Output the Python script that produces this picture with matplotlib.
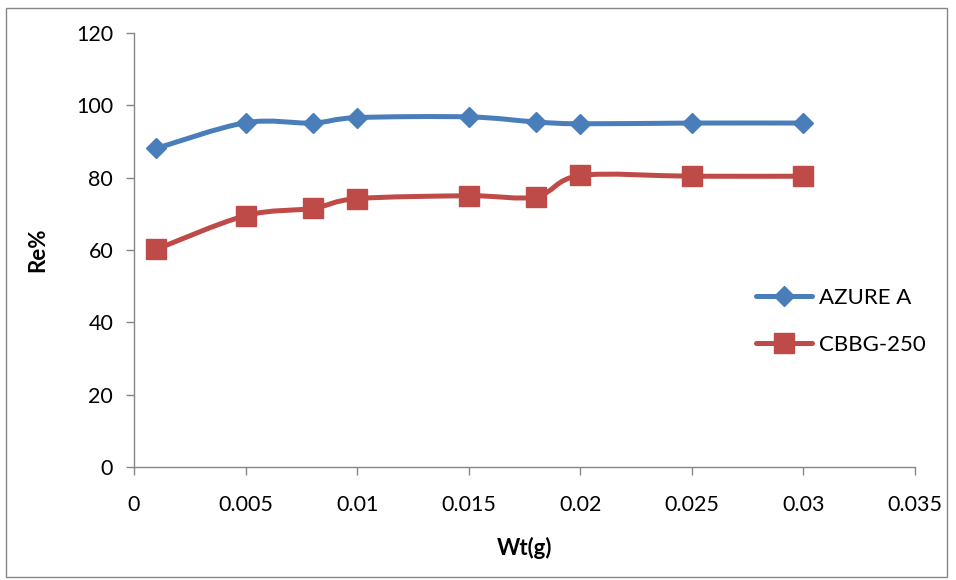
import matplotlib
matplotlib.use('Agg')
import matplotlib.pyplot as plt
from matplotlib.path import Path
from matplotlib.patches import PathPatch, Rectangle
from matplotlib.lines import Line2D

# data
wt = [0.001, 0.005, 0.008, 0.01, 0.015, 0.018, 0.02, 0.025, 0.03]
azure_a = [88.1, 95.2, 95.1, 96.6, 96.8, 95.4, 94.9, 95.1, 95.1]
cbbg_250 = [60.2, 69.5, 71.5, 74.2, 75.0, 74.7, 80.6, 80.4, 80.4]

x_ticks = [0, 0.005, 0.01, 0.015, 0.02, 0.025, 0.03, 0.035]
x_labels = ['0', '0.005', '0.01', '0.015', '0.02', '0.025', '0.03', '0.035']
y_ticks = [0, 20, 40, 60, 80, 100, 120]

BLUE = '#4A7EBB'
RED = '#BE4B48'
GRAY = '#868686'

plt.rcParams['font.family'] = ['Lato', 'DejaVu Sans']


def smooth_path(xs, ys):
    """Excel-style smoothed line: cubic Bezier through the points"""
    verts = [(xs[0], ys[0])]
    codes = [Path.MOVETO]
    n = len(xs)
    for i in range(n - 1):
        x0, y0 = (xs[i - 1], ys[i - 1]) if i > 0 else (xs[i], ys[i])
        x1, y1 = xs[i], ys[i]
        x2, y2 = xs[i + 1], ys[i + 1]
        x3, y3 = (xs[i + 2], ys[i + 2]) if i + 2 < n else (x2, y2)
        c1 = (x1 + (x2 - x0) / 6, y1 + (y2 - y0) / 6)
        c2 = (x2 - (x3 - x1) / 6, y2 - (y3 - y1) / 6)
        verts += [c1, c2, (x2, y2)]
        codes += [Path.CURVE4] * 3
    return Path(verts, codes)


fig = plt.figure(figsize=(9.56, 5.8), dpi=100)
ax = fig.add_axes([134 / 956, 1 - 467 / 580, (915 - 134) / 956, (467 - 33) / 580])

for ys, color, marker, ms in [(azure_a, BLUE, 'D', 9.8), (cbbg_250, RED, 's', 14)]:
    ax.add_patch(PathPatch(smooth_path(wt, ys), facecolor='none', edgecolor=color,
                           linewidth=3.6, capstyle='round', joinstyle='round', zorder=2))
    ax.plot(wt, ys, linestyle='none', marker=marker, markersize=ms,
            color=color, markeredgecolor=color, zorder=3)

ax.set_xlim(0, 0.035)
ax.set_ylim(0, 120)
ax.set_xticks(x_ticks)
ax.set_xticklabels(x_labels)
ax.set_yticks(y_ticks)
ax.tick_params(direction='out', length=6, width=1, color=GRAY, labelsize=15.5)
ax.tick_params(axis='x', pad=14)
ax.tick_params(axis='y', pad=9)

for side in ['top', 'right']:
    ax.spines[side].set_visible(False)
for side in ['left', 'bottom']:
    ax.spines[side].set_color(GRAY)
    ax.spines[side].set_linewidth(1)

ax.set_xlabel('Wt(g)', fontsize=16, fontweight='bold', labelpad=16)
ax.set_ylabel('Re%', fontsize=16, fontweight='bold', labelpad=20)

handles = [
    Line2D([], [], color=BLUE, linewidth=3.6, marker='D', markersize=9.8, solid_capstyle='round'),
    Line2D([], [], color=RED, linewidth=3.6, marker='s', markersize=14, solid_capstyle='round'),
]
ax.legend(handles, ['AZURE A', 'CBBG-250'], loc='center left', bbox_to_anchor=(0.797, 0.336),
          frameon=False, fontsize=16, handlelength=2.5, labelspacing=1.2, handletextpad=0.3,
          borderpad=0, borderaxespad=0)

fig.patches.append(Rectangle((6 / 956, 3 / 580), 941 / 956, 569 / 580, transform=fig.transFigure,
                             facecolor='none', edgecolor=GRAY, linewidth=1))

plt.savefig('out.png', dpi=100)
plt.close()
